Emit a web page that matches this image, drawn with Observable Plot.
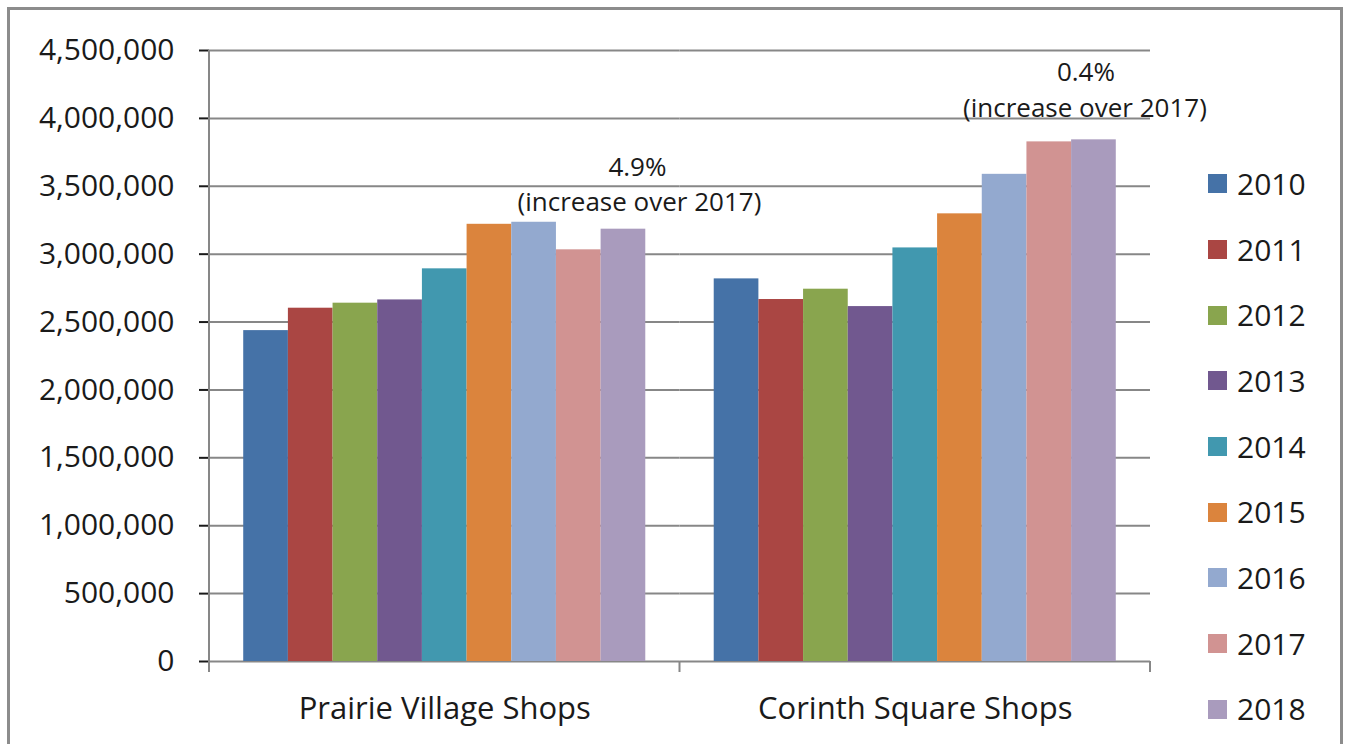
<!DOCTYPE html>
<html>
<head>
<meta charset="utf-8">
<script src="https://cdn.jsdelivr.net/npm/d3@7"></script>
<script src="https://cdn.jsdelivr.net/npm/@observablehq/plot@0.6"></script>
<style>
  html, body { margin: 0; padding: 0; background: #fff; }
  #page { position: relative; width: 1346px; height: 744px; overflow: hidden; font-family: "Open Sans", sans-serif; }
  #frame { position: absolute; left: 7px; top: 7px; width: 1330px; height: 800px; border: 3px solid #8c8c8c; }
  #chart { position: absolute; left: 0; top: 0; }
  #legend { position: absolute; left: 1208px; top: 151px; }
  .item { display: flex; align-items: center; height: 65.7px; }
  .sw { width: 19px; height: 19px; margin-right: 10px; }
  .lab { font-size: 30px; line-height: 1; color: #1a1a1a; }
</style>
</head>
<body>
<div id="page">
  <div id="frame"></div>
  <div id="chart"></div>
  <div id="legend"></div>
</div>
<script>
const shops = ["Prairie Village Shops", "Corinth Square Shops"];
const years = ["2010", "2011", "2012", "2013", "2014", "2015", "2016", "2017", "2018"];
const prairieVillage = [2437000, 2602000, 2639000, 2663000, 2892000, 3220000, 3235000, 3032000, 3184000];
const corinthSquare = [2818000, 2666000, 2742000, 2614000, 3046000, 3297000, 3588000, 3827000, 3842000];
const changeLabels = ["4.9%", "0.4%"];
const changeNote = "(increase over 2017)";
const yTicks = [0, 500000, 1000000, 1500000, 2000000, 2500000, 3000000, 3500000, 4000000, 4500000];
const colors = ["#4572A7", "#AA4643", "#89A54E", "#71588F", "#4198AF", "#DB843D", "#93A9CF", "#D19392", "#A99BBD"];

const seriesByShop = [prairieVillage, corinthSquare];
const data = shops.flatMap((shop, i) => years.map((year, j) => ({shop, year, value: seriesByShop[i][j]})));
const notes = shops.map((shop, i) => ({shop, year: "2018", value: seriesByShop[i][8], pct: changeLabels[i], note: changeNote}));

const gridColor = "#878787";
const textColor = "#1a1a1a";

const chart = Plot.plot({
  width: 1346,
  height: 744,
  marginLeft: 209,
  marginRight: 196,
  marginTop: 50,
  marginBottom: 83,
  style: {fontFamily: "'Open Sans', sans-serif", fontSize: "30px", color: textColor, background: "transparent", overflow: "visible"},
  fx: {domain: shops, paddingInner: 0, paddingOuter: 0, round: false, label: null, tickSize: 0, tickPadding: 35},
  x: {domain: years, paddingInner: 0, paddingOuter: 0.766, round: false, axis: null},
  y: {domain: [0, 4500000], ticks: yTicks, tickFormat: d3.format(","), tickSize: 10, tickPadding: 25, label: null},
  color: {domain: years, range: colors},
  marks: [
    Plot.ruleY(yTicks, {stroke: gridColor, strokeWidth: 2}),
    Plot.barY(data, {fx: "shop", x: "year", y: "value", fill: "year"}),
    Plot.text(notes.slice(0, 1), {fx: "shop", x: "year", y: "value", text: "pct", dx: 14, dy: -62, fontSize: 26, fill: textColor}),
    Plot.text(notes.slice(0, 1), {fx: "shop", x: "year", y: "value", text: "note", dx: 16, dy: -27, fontSize: 26, fill: textColor}),
    Plot.text(notes.slice(1), {fx: "shop", x: "year", y: "value", text: "pct", dx: -8, dy: -67, fontSize: 26, fill: textColor}),
    Plot.text(notes.slice(1), {fx: "shop", x: "year", y: "value", text: "note", dx: -9, dy: -31, fontSize: 26, fill: textColor})
  ]
});
document.getElementById("chart").appendChild(chart);

// axis styling: gray tick marks, category boundary ticks and the vertical axis line
const svg = d3.select(chart);
svg.selectAll('g[aria-label="y-axis tick"]').attr("stroke", gridColor).attr("stroke-width", 2);
svg.selectAll('g[aria-label="fx-axis tick label"]').attr("font-size", 31);
const fxS = chart.scale("fx");
const yS = chart.scale("y");
const r0 = fxS.range[0], r1 = fxS.range[1];
const step = (r1 - r0) / shops.length;
const y0 = yS.apply(0), yTop = yS.apply(yTicks[yTicks.length - 1]);
const g = svg.append("g").attr("stroke", gridColor).attr("stroke-width", 2);
g.append("line").attr("x1", r0).attr("x2", r0).attr("y1", yTop).attr("y2", y0 + 11);
d3.range(shops.length + 1).forEach(i => {
  const x = r0 + i * step;
  g.append("line").attr("x1", x).attr("x2", x).attr("y1", y0).attr("y2", y0 + 11);
});

// legend
const legend = d3.select("#legend");
years.forEach((y, i) => {
  const item = legend.append("div").attr("class", "item");
  item.append("div").attr("class", "sw").style("background", colors[i]);
  item.append("div").attr("class", "lab").text(y);
});
</script>
</body>
</html>
